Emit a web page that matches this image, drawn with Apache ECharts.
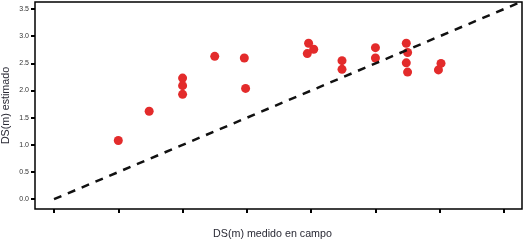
<!DOCTYPE html>
<html><head><meta charset="utf-8">
<script src="https://cdn.jsdelivr.net/npm/echarts@6/dist/echarts.min.js"></script>
<style>html,body{margin:0;padding:0;background:#fff}#c{width:526px;height:244px}</style>
</head><body><div id="c"></div>
<script>
// DS(m) medido en campo (x) vs DS(m) estimado (y)
const medido = [0.50, 0.74, 1.00, 1.00, 1.00, 1.25, 1.48, 1.49, 1.98, 2.02, 1.97, 2.24, 2.24, 2.50, 2.50, 2.74, 2.75, 2.74, 2.75, 3.01, 2.99];
const estimado = [1.08, 1.62, 2.23, 2.09, 1.93, 2.63, 2.60, 2.04, 2.87, 2.76, 2.68, 2.55, 2.39, 2.79, 2.60, 2.87, 2.70, 2.51, 2.34, 2.50, 2.38];
const refLine = [[0, 0], [3.64, 3.64]];
const xTicks = [0, 0.5, 1.0, 1.5, 2.0, 2.5, 3.0, 3.5];
const yTicks = [0, 0.5, 1.0, 1.5, 2.0, 2.5, 3.0, 3.5];

const chart = echarts.init(document.getElementById('c'));
chart.setOption({
  animation: false,
  grid: {left: 35, right: 4, top: 2, bottom: 35, show: true, borderColor: '#000', borderWidth: 1.5,
         backgroundColor: 'transparent', containLabel: false, outerBoundsMode: 'none'},
  xAxis: {
    type: 'value', min: -0.148, max: 3.64,
    name: 'DS(m) medido en campo', nameLocation: 'middle', nameGap: 20, nameMoveOverlap: false,
    nameTextStyle: {fontFamily: 'Liberation Sans', fontSize: 10.7, color: '#2a2a35', padding: [0, 12, 0, 0]},
    axisLine: {show: false, onZero: false},
    axisTick: {show: true, inside: false, length: 4, lineStyle: {color: '#000', width: 2}, customValues: xTicks},
    axisLabel: {show: false},
    splitLine: {show: false}
  },
  yAxis: {
    type: 'value', min: -0.18, max: 3.63,
    name: 'DS(m) estimado', nameLocation: 'middle', nameGap: 23, nameMoveOverlap: false,
    nameTextStyle: {fontFamily: 'Liberation Sans', fontSize: 10.7, color: '#2a2a35'},
    axisLine: {show: false, onZero: false},
    axisTick: {show: true, inside: false, length: 4, lineStyle: {color: '#000', width: 2}, customValues: yTicks},
    axisLabel: {show: true, margin: 6, fontFamily: 'Liberation Sans', fontSize: 7, color: '#333', customValues: yTicks,
      formatter: v => v.toFixed(1)},
    splitLine: {show: false}
  },
  series: [
    {type: 'line', data: refLine, symbol: 'none', silent: true,
     lineStyle: {color: '#111', width: 2.5, type: [8, 7]}},
    {type: 'scatter', data: medido.map((x, i) => [x, estimado[i]]), symbolSize: 9,
     itemStyle: {color: '#e32b2b', opacity: 1}}
  ]
});
</script></body></html>
